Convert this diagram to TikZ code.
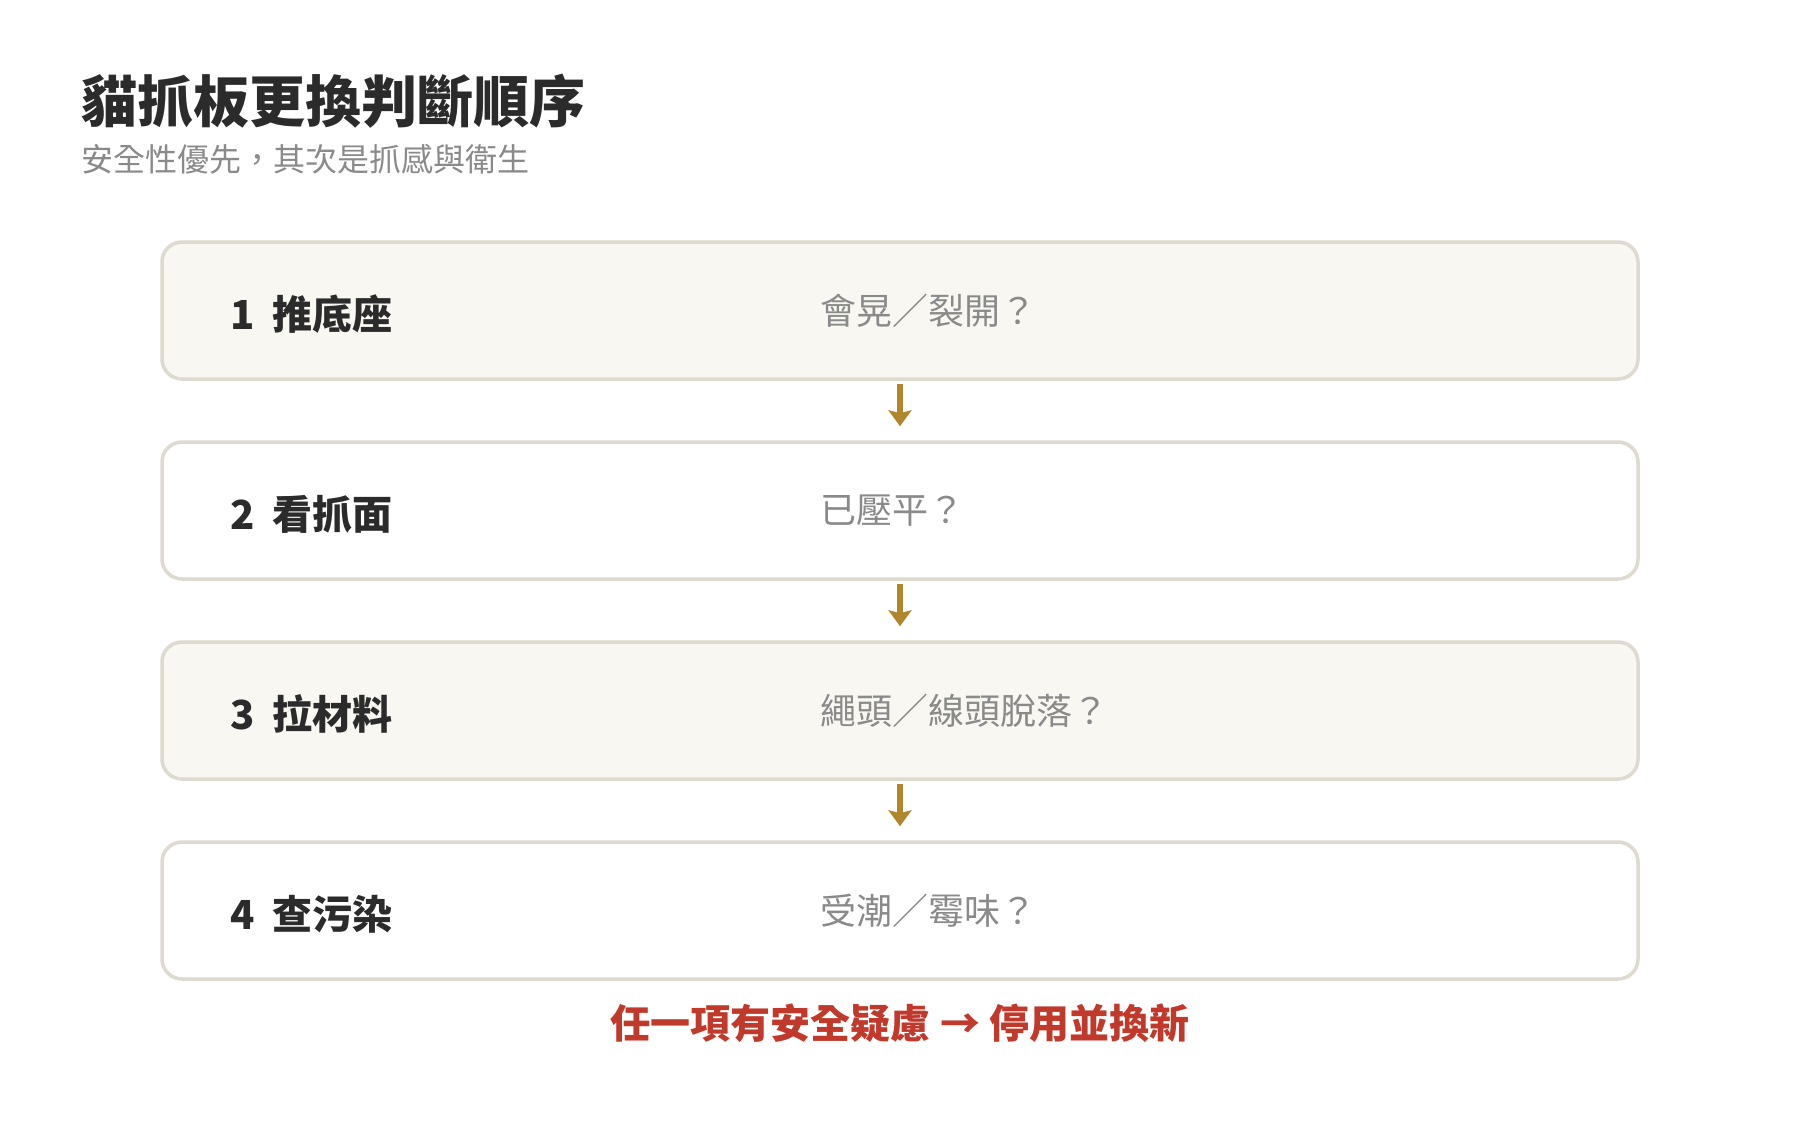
\documentclass[tikz,border=0pt]{standalone}
\usepackage{fontspec}
\setmainfont{Noto Sans CJK TC}
\usetikzlibrary{arrows.meta}
\definecolor{titleink}{HTML}{2B2B2B}
\definecolor{subink}{HTML}{8A8A8A}
\definecolor{boxline}{HTML}{DEDAD0}
\definecolor{cream}{HTML}{F9F7F1}
\definecolor{gold}{HTML}{B0862A}
\definecolor{warn}{HTML}{C0392B}
\begin{document}
\begin{tikzpicture}[x=0.5pt,y=-0.5pt,
  stepbox/.style={draw=boxline, line width=1.75pt, rounded corners=10pt,
    minimum width=738pt, minimum height=68.5pt, inner sep=0pt},
  creambox/.style={stepbox, fill=cream},
  whitebox/.style={stepbox, fill=white},
  steplabel/.style={anchor=west, inner sep=0pt, font=\fontsize{20pt}{24pt}\selectfont\bfseries, text=titleink},
  question/.style={anchor=west, inner sep=0pt, font=\fontsize{18pt}{22pt}\selectfont, text=subink},
  flow/.style={draw=gold, line width=3pt, -{Stealth[length=8pt,width=11.5pt,inset=1.5pt]},
    shorten <=1.5pt, shorten >=7pt}
]
\useasboundingbox (0,0) rectangle (1800,1120);
\fill[white] (0,0) rectangle (1800,1120);

\node[anchor=west, inner sep=0pt, font=\fontsize{28pt}{32pt}\selectfont\bfseries, text=titleink]
  (title) at (81,101) {貓抓板更換判斷順序};
\node[anchor=west, inner sep=0pt, font=\fontsize{16pt}{20pt}\selectfont, text=subink]
  (subtitle) at (81,159) {安全性優先，其次是抓感與衛生};

\node[creambox] (b1) at (900,310.5) {};
\node[whitebox] (b2) at (900,510.5) {};
\node[creambox] (b3) at (900,710.5) {};
\node[whitebox] (b4) at (900,910.5) {};

\node[steplabel] (l1) at (230,314) {1\hspace{8.75pt}推底座};
\node[steplabel] (l2) at (230,514) {2\hspace{8.75pt}看抓面};
\node[steplabel] (l3) at (230,714) {3\hspace{8.75pt}拉材料};
\node[steplabel] (l4) at (230,914) {4\hspace{8.75pt}查污染};

\node[question] (q1) at (820,311) {會晃／裂開？};
\node[question] (q2) at (820,511) {已壓平？};
\node[question] (q3) at (820,711) {繩頭／線頭脫落？};
\node[question] (q4) at (820,911) {受潮／霉味？};

\draw[flow] (b1.south) -- (b2.north);
\draw[flow] (b2.south) -- (b3.north);
\draw[flow] (b3.south) -- (b4.north);

\node[inner sep=0pt, font=\fontsize{20pt}{24pt}\selectfont\bfseries, text=warn]
  (note) at (900,1023.5) {任一項有安全疑慮 → 停用並換新};
\end{tikzpicture}
\end{document}
